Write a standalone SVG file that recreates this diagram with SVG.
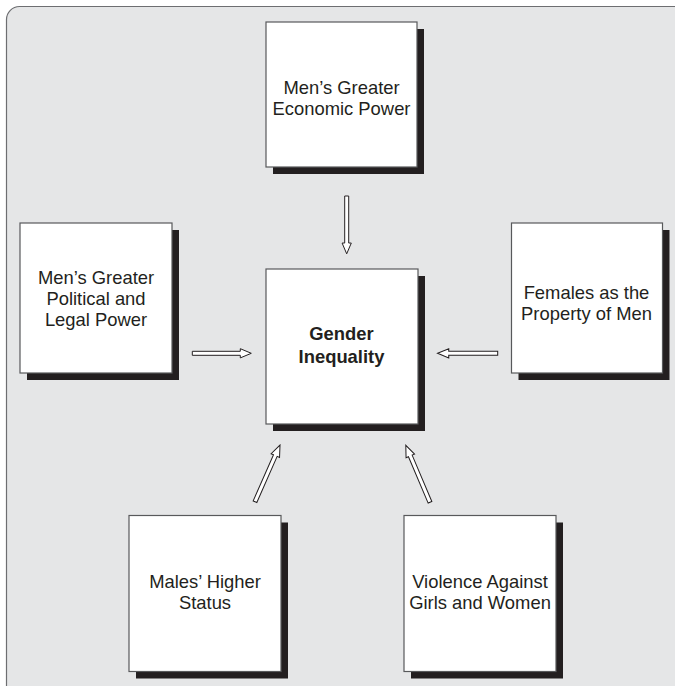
<svg xmlns="http://www.w3.org/2000/svg" xmlns:xlink="http://www.w3.org/1999/xlink" width="675" height="686" viewBox="0 0 675 686">
  <style>
    .bg { fill: #e5e6e7; stroke: #6d6e71; stroke-width: 1.2; }
    .box { fill: #ffffff; stroke: #58595b; stroke-width: 1.2; }
    .shadow { fill: #231f20; }
    .lbl { font-family: "Liberation Sans", Arial, sans-serif; font-size: 18.4px; fill: #231f20; text-anchor: middle; }
    .bold { font-weight: bold; }
    .arrow { fill: #ffffff; stroke: #231f20; stroke-width: 1; stroke-linejoin: miter; }
  </style>
  <defs>
    <polygon id="arr" class="arrow" points="0,-2 48,-2 48,-4.6 59,0 48,4.6 48,2 0,2"/>
  </defs>
  <rect class="bg" x="6.5" y="6.5" width="720" height="720" rx="13" ry="13"/>

  <g id="connectors">
    <use xlink:href="#arr" href="#arr" transform="translate(346.7,196) rotate(90) scale(0.98,1)"/>
    <use xlink:href="#arr" href="#arr" transform="translate(192.3,353.3)"/>
    <use xlink:href="#arr" href="#arr" transform="translate(497.7,353.3) rotate(180) scale(1.02,1)"/>
    <use xlink:href="#arr" href="#arr" transform="translate(255,501.7) rotate(-66.2) scale(1.05,1)"/>
    <use xlink:href="#arr" href="#arr" transform="translate(430,502.3) rotate(-113) scale(1.05,1)"/>
  </g>

  <g id="node-economic">
    <rect class="shadow" x="273" y="29" width="151" height="145"/>
    <rect class="box" x="266" y="22" width="151" height="145"/>
    <text class="lbl" x="341.5" y="94.3">Men’s Greater</text>
    <text class="lbl" x="341.5" y="115">Economic Power</text>
  </g>

  <g id="node-political">
    <rect class="shadow" x="27" y="230" width="152" height="150"/>
    <rect class="box" x="20" y="223" width="152" height="150"/>
    <text class="lbl" x="96" y="284">Men’s Greater</text>
    <text class="lbl" x="96" y="305">Political and</text>
    <text class="lbl" x="96" y="326">Legal Power</text>
  </g>

  <g id="node-gender">
    <rect class="shadow" x="273" y="276" width="152" height="155"/>
    <rect class="box" x="266" y="269" width="152" height="155"/>
    <text class="lbl bold" x="341.5" y="340">Gender</text>
    <text class="lbl bold" x="341.5" y="363">Inequality</text>
  </g>

  <g id="node-property">
    <rect class="shadow" x="518.5" y="230" width="151" height="150"/>
    <rect class="box" x="511.5" y="223" width="151" height="150"/>
    <text class="lbl" x="586.5" y="299">Females as the</text>
    <text class="lbl" x="586.5" y="320">Property of Men</text>
  </g>

  <g id="node-status">
    <rect class="shadow" x="136" y="522.5" width="152" height="156"/>
    <rect class="box" x="129" y="515.5" width="152" height="156"/>
    <text class="lbl" x="205" y="588.3">Males’ Higher</text>
    <text class="lbl" x="205" y="609">Status</text>
  </g>

  <g id="node-violence">
    <rect class="shadow" x="411" y="522.5" width="152" height="156"/>
    <rect class="box" x="404" y="515.5" width="152" height="156"/>
    <text class="lbl" x="480" y="588.3">Violence Against</text>
    <text class="lbl" x="480" y="609">Girls and Women</text>
  </g>
</svg>
